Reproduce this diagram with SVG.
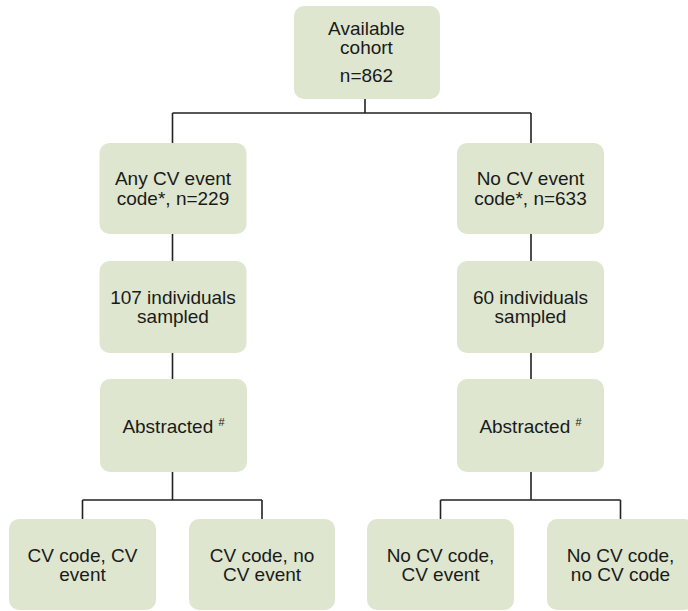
<svg xmlns="http://www.w3.org/2000/svg" width="688" height="611" viewBox="0 0 688 611">
<style>
.box{fill:#dee6cf;}
.t{font-family:"Liberation Sans",Arial,sans-serif;font-size:19px;fill:#1a1a1a;text-anchor:middle;}
.sup{font-size:11px;}
.ln{fill:none;stroke:#222;stroke-width:1.6;}
</style>
<rect width="688" height="611" fill="#fff"/>
<g id="connectors">
<path class="ln" d="M365 99V113M172.5 113H531M172.5 113V143M531 113V143"/>
<path class="ln" d="M172.5 234V261M172.5 353V379M172.5 472V500M82.5 500H262M82.5 500V519M262 500V519"/>
<path class="ln" d="M531 234V261M531 353V379M531 472V500M440.5 500H620.5M440.5 500V519M620.5 500V519"/>
</g>
<g id="n_available"><rect class="box" x="294" y="6" width="146" height="93" rx="10"/>
<text class="t" x="366.5" y="35">Available</text><text class="t" x="366.5" y="54">cohort</text><text class="t" x="366.5" y="82">n=862</text></g>
<g id="n_anycv"><rect class="box" x="99.5" y="143" width="147" height="91" rx="10"/>
<text class="t" x="173" y="185">Any CV event</text><text class="t" x="173" y="205">code*, n=229</text></g>
<g id="n_nocv"><rect class="box" x="457" y="143" width="147" height="91" rx="10"/>
<text class="t" x="530.5" y="185">No CV event</text><text class="t" x="530.5" y="205">code*, n=633</text></g>
<g id="n_107"><rect class="box" x="99.5" y="261" width="147" height="92" rx="10"/>
<text class="t" x="173" y="304">107 individuals</text><text class="t" x="173" y="323">sampled</text></g>
<g id="n_60"><rect class="box" x="457" y="261" width="147" height="92" rx="10"/>
<text class="t" x="530.5" y="304">60 individuals</text><text class="t" x="530.5" y="323">sampled</text></g>
<g id="n_abs_l"><rect class="box" x="100" y="379" width="147" height="93" rx="10"/>
<text class="t" x="173.5" y="433">Abstracted <tspan class="sup" dy="-7">#</tspan></text></g>
<g id="n_abs_r"><rect class="box" x="457" y="379" width="147" height="93" rx="10"/>
<text class="t" x="530.5" y="433">Abstracted <tspan class="sup" dy="-7">#</tspan></text></g>
<g id="n_l1"><rect class="box" x="9" y="519" width="147" height="91" rx="10"/>
<text class="t" x="82.5" y="562">CV code, CV</text><text class="t" x="82.5" y="581">event</text></g>
<g id="n_l2"><rect class="box" x="189" y="519" width="146" height="91" rx="10"/>
<text class="t" x="262" y="562">CV code, no</text><text class="t" x="262" y="581">CV event</text></g>
<g id="n_r1"><rect class="box" x="367" y="519" width="147" height="91" rx="10"/>
<text class="t" x="440.5" y="562">No CV code,</text><text class="t" x="440.5" y="581">CV event</text></g>
<g id="n_r2"><rect class="box" x="547" y="519" width="147" height="91" rx="10"/>
<text class="t" x="620.5" y="562">No CV code,</text><text class="t" x="620.5" y="581">no CV code</text></g>
</svg>
